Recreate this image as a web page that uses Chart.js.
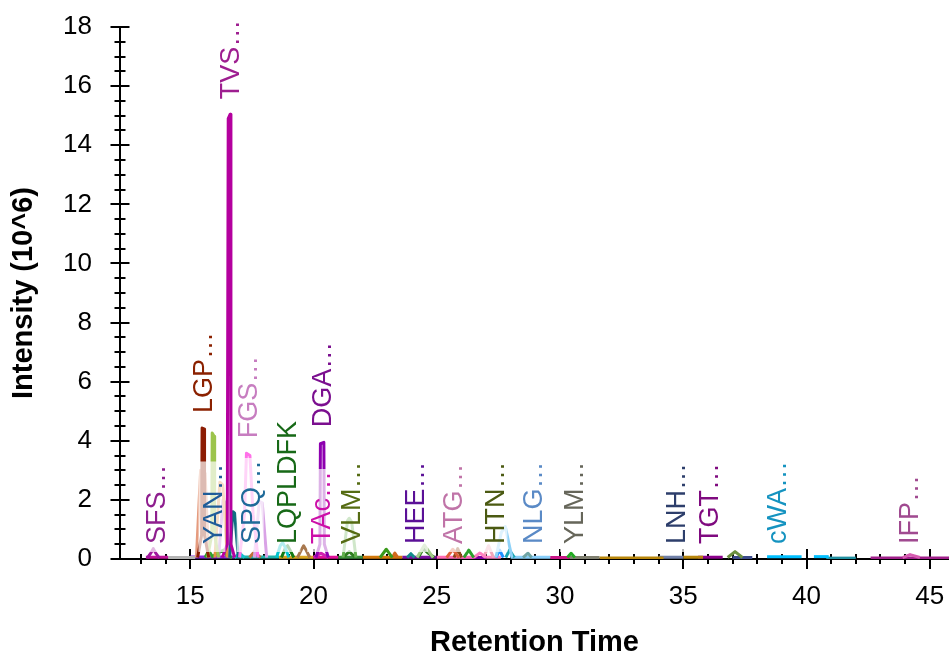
<!DOCTYPE html>
<html>
<head>
<meta charset="utf-8">
<script src="https://cdn.jsdelivr.net/npm/chart.js@4.4.0/dist/chart.umd.min.js"></script>
<style>
  html, body { margin: 0; padding: 0; background: #fff; }
  #wrap { width: 949px; height: 657px; position: relative; }
</style>
</head>
<body>
<div id="wrap"><canvas id="myChart"></canvas></div>
<script>
// chromatogram traces: retention time (min) / intensity (10^6)
var traceTimes = [
  [16.3, 16.5, 16.54, 16.62, 16.65, 16.8],
  [15.3, 15.46, 15.48, 15.56, 15.58, 15.75],
  [15.7, 15.87, 15.89, 15.97, 15.99, 16.15],
  [20.1, 20.26, 20.28, 20.42, 20.44, 20.6],
  [17.0, 17.2, 17.28, 17.42, 17.55, 17.75],
  [16.6, 16.73, 16.8, 16.95],
  [15.25, 15.42, 15.6, 15.75],
  [16.0, 16.2, 16.32, 16.5],
  [16.15, 16.33, 16.43, 16.55],
  [17.6, 17.8, 17.92, 18.1],
  [21.2, 21.38, 21.45, 21.55, 21.72],
  [27.4, 27.62, 27.78, 28.05],
  [18.5, 18.65, 18.75, 18.85, 19.0],
  [18.7, 18.85, 18.95, 19.05, 19.2],
  [19.35, 19.5, 19.6, 19.7, 19.85],
  [13.25, 13.4, 13.5, 13.6, 13.75],
  [22.7, 22.95, 23.2],
  [23.2, 23.3, 23.42],
  [23.8, 23.95, 24.1],
  [24.2, 24.5, 24.85],
  [24.25, 24.45, 24.65, 24.9],
  [25.4, 25.65, 25.9],
  [25.7, 25.85, 26.0],
  [26.1, 26.3, 26.5],
  [26.5, 26.75, 27.0],
  [26.9, 27.1, 27.3],
  [27.4, 27.55, 27.7],
  [27.8, 27.95, 28.15],
  [28.5, 28.7, 28.85],
  [30.3, 30.45, 30.6],
  [36.8, 37.1, 37.4],
  [43.9, 44.2, 44.6],
  [15.6, 15.75, 15.9, 16.1, 16.35, 16.5, 16.7],
  [16.8, 17.0, 17.2],
  [17.4, 17.6, 17.85],
  [20.0, 20.3, 20.6],
  [21.2, 21.45, 21.7],
  [13.2, 14.1],
  [14.1, 15.2],
  [15.0, 16.8],
  [16.8, 18.6],
  [18.6, 20.0],
  [20.0, 21.0],
  [21.0, 22.0],
  [22.0, 23.6],
  [23.6, 25.0],
  [25.0, 26.5],
  [26.0, 27.0],
  [27.0, 27.6],
  [28.0, 29.6],
  [29.6, 30.4],
  [30.4, 31.6],
  [31.6, 34.2],
  [34.0, 35.0],
  [35.0, 35.8],
  [35.6, 36.6],
  [37.0, 37.8],
  [38.4, 39.8],
  [40.3, 40.9],
  [40.8, 42.0],
  [42.6, 45.8]
];
var traceIntensities = [
  [0.05, 0.5, 14.9, 15.05, 0.5, 0.05],
  [0.05, 0.8, 4.43, 4.4, 0.8, 0.05],
  [0.05, 0.8, 4.26, 4.15, 0.8, 0.05],
  [0.05, 0.5, 3.9, 3.95, 0.5, 0.05],
  [0.05, 1.5, 3.58, 3.5, 1.5, 0.05],
  [0.05, 1.6, 1.55, 0.05],
  [0.05, 3.0, 2.9, 0.05],
  [0.05, 2.6, 2.5, 0.05],
  [0.05, 2.0, 1.9, 0.05],
  [0.05, 1.95, 1.9, 0.05],
  [0.05, 1.3, 1.38, 1.25, 0.05],
  [0.05, 0.9, 1.1, 0.05],
  [0.05, 0.45, 0.55, 0.4, 0.05],
  [0.05, 0.35, 0.45, 0.3, 0.05],
  [0.05, 0.3, 0.45, 0.3, 0.05],
  [0.03, 0.2, 0.35, 0.2, 0.03],
  [0.05, 0.33, 0.05],
  [0.05, 0.2, 0.05],
  [0.05, 0.18, 0.05],
  [0.05, 0.47, 0.05],
  [0.05, 0.35, 0.2, 0.05],
  [0.05, 0.33, 0.05],
  [0.05, 0.35, 0.05],
  [0.05, 0.3, 0.05],
  [0.05, 0.2, 0.05],
  [0.05, 0.45, 0.05],
  [0.05, 0.3, 0.05],
  [0.05, 0.3, 0.05],
  [0.05, 0.2, 0.05],
  [0.05, 0.2, 0.05],
  [0.05, 0.25, 0.05],
  [0.05, 0.15, 0.05],
  [0.05, 0.28, 0.08, 0.2, 0.3, 0.1, 0.05],
  [0.05, 0.2, 0.05],
  [0.05, 0.25, 0.05],
  [0.05, 0.2, 0.05],
  [0.05, 0.25, 0.05],
  [0.06, 0.06],
  [0.05, 0.05],
  [0.07, 0.07],
  [0.07, 0.07],
  [0.06, 0.06],
  [0.06, 0.06],
  [0.06, 0.06],
  [0.06, 0.06],
  [0.06, 0.06],
  [0.06, 0.06],
  [0.05, 0.05],
  [0.06, 0.06],
  [0.06, 0.06],
  [0.05, 0.05],
  [0.05, 0.05],
  [0.03, 0.03],
  [0.06, 0.06],
  [0.06, 0.06],
  [0.06, 0.06],
  [0.05, 0.05],
  [0.08, 0.08],
  [0.08, 0.08],
  [0.03, 0.03],
  [0.03, 0.03]
];
var traceColors = [
  '#B4009E', '#8C1C03', '#9CC44C', '#8E00B0', '#FF70E8', '#0F6F80', '#E59B7E', '#E69040',
  '#B27BD6', '#D9A3E6', '#62B04E', '#8FD2F8', '#00C4CE', '#137A13', '#A8784E', '#A0179E',
  '#3A9A1A', '#D2691E', '#128C8C', '#A2CC88', '#2B7A1B', '#E0603A', '#8B4513', '#2CA02C',
  '#FF7FBF', '#F2A6B8', '#1E90FF', '#1AA5B0', '#6FA5A5', '#22AA22', '#6B9040', '#D65CB0',
  '#2CA02C', '#17BECF', '#C0703A', '#D020B0', '#2E7D1E',
  '#C0169A', '#B4B4B4', '#8A2BE2', '#20B2AA', '#DAA520', '#E0109A', '#3C8C3C', '#D2780A',
  '#7A0FA0', '#FF69B4', '#8000A0', '#FF80C0', '#87CEFA', '#C71585', '#808070', '#B8860B',
  '#7080A8', '#B8860B', '#8B008B', '#3A4A8A', '#00BFFF', '#00BFFF', '#2090A0', '#A0208A'
];

// peak labels
var peptideLabels = ['SFS\u2026', 'LGP\u2026', 'YAN\u2026', 'TVS\u2026', 'FGS\u2026', 'SPQ\u2026', 'LQPLDFK',
  'DGA\u2026', 'TAc\u2026', 'VLM\u2026', 'HEE\u2026', 'ATG\u2026', 'HTN\u2026', 'NLG\u2026', 'YLM\u2026',
  'LNH\u2026', 'TGT\u2026', 'cWA\u2026', 'IFP\u2026'];
var labelTimes = [13.6, 15.5, 15.88, 16.58, 17.32, 17.43, 18.92, 20.34, 20.29, 21.51, 24.1, 25.65,
  27.32, 28.86, 30.55, 34.7, 36.03, 38.76, 44.15];
var labelIntensities = [0, 4.43, 0, 15.05, 3.58, 0, 0, 3.95, 0, 0, 0, 0, 0, 0, 0, 0, 0, 0, 0];
var labelColors = ['#8E1E8E', '#8B2100', '#1F5C99', '#9E1E90', '#C77DC0', '#1F6A99', '#176917',
  '#7B0F8F', '#CC10A8', '#556B12', '#5B1097', '#C074A8', '#4B5A12', '#5A8AC6', '#66665A',
  '#2D3E6B', '#7F0A7F', '#1593C0', '#A04A90'];

var xMin = 12.15, xMax = 45.78;
var fontFamily = '"Liberation Sans", Arial, sans-serif';

var datasets = traceTimes.map(function (ts, i) {
  return {
    data: ts.map(function (t, j) { return { x: t, y: traceIntensities[i][j] }; }),
    borderColor: traceColors[i],
    backgroundColor: traceColors[i],
    borderWidth: 3,
    borderJoinStyle: 'round',
    pointRadius: 0,
    showLine: true,
    tension: 0
  };
});

var axesPlugin = {
  id: 'axesPlugin',
  beforeDatasetsDraw: function (chart) {
    var ctx = chart.ctx, xs = chart.scales.x, ys = chart.scales.y, a = chart.chartArea;
    ctx.save();
    ctx.strokeStyle = '#000';
    ctx.lineWidth = 2;
    ctx.beginPath();
    ctx.moveTo(a.left, a.top);
    ctx.lineTo(a.left, a.bottom);
    ctx.moveTo(a.left, a.bottom);
    ctx.lineTo(a.right, a.bottom);
    ctx.stroke();
    xs.ticks.forEach(function (t) {
      if (t.value < xMin || t.value > xMax) return;
      var px = Math.round(xs.getPixelForValue(t.value));
      var len = t.value % 5 === 0 ? 10 : 5;
      ctx.beginPath();
      ctx.moveTo(px, a.bottom - len);
      ctx.lineTo(px, a.bottom + len);
      ctx.stroke();
    });
    ys.ticks.forEach(function (t) {
      var py = Math.round(ys.getPixelForValue(t.value));
      var len = t.value % 2 === 0 ? 9.5 : 5.5;
      ctx.beginPath();
      ctx.moveTo(a.left - len, py);
      ctx.lineTo(a.left + len, py);
      ctx.stroke();
    });
    ctx.restore();
  }
};

var labelPlugin = {
  id: 'labelPlugin',
  afterDatasetsDraw: function (chart) {
    var ctx = chart.ctx, xs = chart.scales.x, ys = chart.scales.y;
    ctx.save();
    ctx.font = '27px ' + fontFamily;
    peptideLabels.forEach(function (txt, i) {
      var px = xs.getPixelForValue(labelTimes[i]);
      var py = ys.getPixelForValue(labelIntensities[i]) - 15;
      var w = ctx.measureText(txt).width;
      ctx.save();
      ctx.translate(px, py);
      ctx.rotate(-Math.PI / 2);
      ctx.fillStyle = 'rgba(255,255,255,0.7)';
      ctx.fillRect(-8, -13.5, w + 10, 27);
      ctx.fillStyle = labelColors[i];
      ctx.textBaseline = 'alphabetic';
      ctx.fillText(txt, 0, 9.6);
      ctx.restore();
    });
    ctx.restore();
  }
};

var ctx = document.getElementById('myChart').getContext('2d');
var myChart = new Chart(ctx, {
  type: 'scatter',
  data: { datasets: datasets },
  plugins: [axesPlugin, labelPlugin],
  options: {
    responsive: true,
    maintainAspectRatio: false,
    animation: false,
    layout: { padding: { top: 27, right: 0, bottom: 0, left: 0 } },
    plugins: { legend: { display: false }, tooltip: { enabled: false } },
    scales: {
      x: {
        type: 'linear',
        min: xMin,
        max: xMax,
        grid: { display: false, drawTicks: true, tickLength: 22 },
        border: { display: false },
        ticks: {
          stepSize: 1,
          includeBounds: false,
          autoSkip: false,
          maxRotation: 0,
          padding: 0,
          color: '#000',
          font: { family: fontFamily, size: 26 },
          callback: function (v) { return v % 5 === 0 ? String(v) : ''; }
        },
        title: {
          display: true,
          text: 'Retention Time',
          color: '#000',
          padding: { top: 0, bottom: 0 },
          font: { family: fontFamily, size: 29, weight: 'bold', lineHeight: 1.0 }
        },
        afterFit: function (scale) { scale.height = 98; }
      },
      y: {
        min: 0,
        max: 18,
        grid: { display: false, drawTicks: true, tickLength: 28 },
        border: { display: false },
        ticks: {
          stepSize: 0.5,
          autoSkip: false,
          padding: 0,
          color: '#000',
          font: { family: fontFamily, size: 26 },
          callback: function (v) { return v % 2 === 0 ? String(v) : ''; }
        },
        title: {
          display: true,
          text: 'Intensity (10^6)',
          color: '#000',
          padding: { top: 9, bottom: 0 },
          font: { family: fontFamily, size: 29, weight: 'bold', lineHeight: 1.0 }
        },
        afterFit: function (scale) { scale.width = 120; }
      }
    }
  }
});
</script>
</body>
</html>
